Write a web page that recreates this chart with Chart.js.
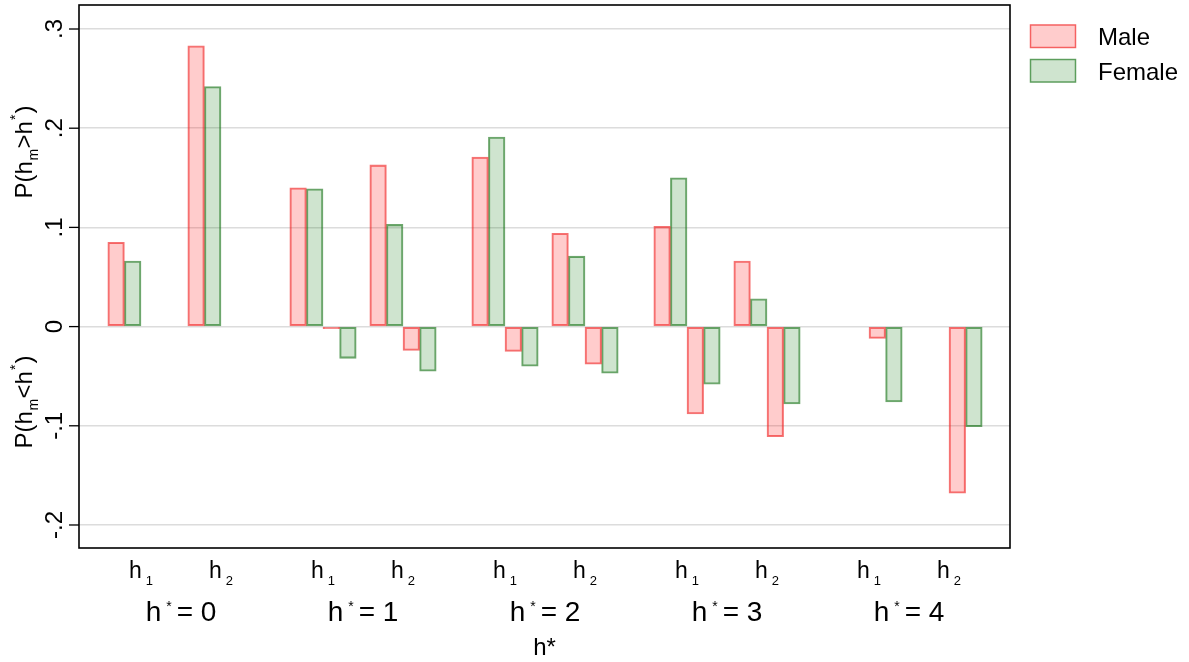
<!DOCTYPE html>
<html>
<head>
<meta charset="utf-8">
<title>P(h_m vs h*) by sex</title>
<script src="https://cdn.jsdelivr.net/npm/chart.js@4/dist/chart.umd.min.js"></script>
<style>
  html, body { margin: 0; padding: 0; background: #ffffff; }
  canvas { display: block; }
</style>
</head>
<body>
<canvas id="chart" width="1189" height="662"></canvas>
<script>
// Category levels: true level h* and the two reported levels h1, h2
const hStarLevels = ['0', '1', '2', '3', '4'];
const subLevels = ['1', '2'];
const seriesNames = ['Male', 'Female'];

// Probabilities, ordered (h*=0,h1), (h*=0,h2), (h*=1,h1), ... (h*=4,h2)
const maleAbove   = [0.085, 0.283, 0.140, 0.163, 0.171, 0.094, 0.101, 0.066, null, null];
const femaleAbove = [0.066, 0.242, 0.139, 0.103, 0.191, 0.071, 0.150, 0.028, null, null];
const maleBelow   = [null, null, -0.001, -0.024, -0.025, -0.038, -0.088, -0.111, -0.012, -0.168];
const femaleBelow = [null, null, -0.032, -0.045, -0.040, -0.047, -0.058, -0.078, -0.076, -0.101];

// Value-axis ticks
const yTickValues = [-0.2, -0.1, 0, 0.1, 0.2, 0.3];
const yTickLabels = ['-.2', '-.1', '0', '.1', '.2', '.3'];

// ---- layout / style ----
const FONT = "'Liberation Sans', Arial, Helvetica, sans-serif";
const GROUP_STEP = 2.275;   // distance between h* groups (in sub-category units)
const colors = {
  male:   { fill: 'rgba(255,0,0,0.2)',   line: 'rgba(240,40,40,0.65)' },
  female: { fill: 'rgba(0,110,0,0.19)',  line: 'rgba(30,120,30,0.65)' }
};

// x position of each (h*, h_k) cell
const xPos = [];
hStarLevels.forEach((_, g) => subLevels.forEach((__, s) => xPos.push(g * GROUP_STEP + s)));

const toPoints = vals => vals.map((v, i) => ({ x: xPos[i], y: v }));

function barSet(label, vals, c) {
  return {
    label,
    data: toPoints(vals),
    backgroundColor: c.fill,
    borderColor: c.line,
    borderWidth: 1.4,
    borderSkipped: false,
    barThickness: 16.6,
    minBarLength: 2
  };
}

// Draw a sequence of text runs (main text, sub/superscripts) centred at x
function drawRuns(ctx, runs, cx, baseY) {
  let total = 0;
  runs.forEach(r => {
    ctx.font = r.size + 'px ' + FONT;
    r.w = ctx.measureText(r.t).width;
    total += r.w + (r.gap || 0);
  });
  let x = cx - total / 2;
  ctx.textAlign = 'left';
  ctx.textBaseline = 'alphabetic';
  runs.forEach(r => {
    ctx.font = r.size + 'px ' + FONT;
    ctx.fillText(r.t, x, baseY + (r.dy || 0));
    x += r.w + (r.gap || 0);
  });
}

const decorations = {
  id: 'decorations',
  afterDraw(chart) {
    const ctx = chart.ctx;
    const a = chart.chartArea;
    const xs = chart.scales.x, ys = chart.scales.y;
    ctx.save();
    ctx.fillStyle = '#000';

    // plot frame
    ctx.strokeStyle = '#000';
    ctx.lineWidth = 1.6;
    ctx.strokeRect(a.left, a.top, a.right - a.left, a.bottom - a.top);

    // y tick marks and rotated tick labels
    ctx.lineWidth = 1.3;
    yTickValues.forEach((v, i) => {
      const y = ys.getPixelForValue(v);
      ctx.beginPath();
      ctx.moveTo(a.left - 10, y);
      ctx.lineTo(a.left, y);
      ctx.stroke();
      ctx.save();
      ctx.translate(62, y);
      ctx.rotate(-Math.PI / 2);
      ctx.font = '24px ' + FONT;
      ctx.textAlign = 'center';
      ctx.textBaseline = 'alphabetic';
      ctx.fillText(yTickLabels[i], 0, 0);
      ctx.restore();
    });

    // y axis titles, one for each half of the axis
    const yTitle = (sign, cy) => {
      ctx.save();
      ctx.translate(32, cy);
      ctx.rotate(-Math.PI / 2);
      drawRuns(ctx, [
        { t: 'P(h', size: 24, gap: 0.5 },
        { t: 'm', size: 14, dy: 6, gap: 0.5 },
        { t: sign + 'h', size: 24, gap: 1 },
        { t: '*', size: 14, dy: -12, gap: 1 },
        { t: ')', size: 24 }
      ], 0, 0);
      ctx.restore();
    };
    yTitle('>', 152);
    yTitle('<', 402);

    // sub-category labels h1 / h2 and group labels h* = k
    hStarLevels.forEach((lvl, g) => {
      subLevels.forEach((sub, s) => {
        const px = xs.getPixelForValue(xPos[g * subLevels.length + s]);
        drawRuns(ctx, [
          { t: 'h', size: 23, gap: 4 },
          { t: sub, size: 13, dy: 7 }
        ], px, 578);
      });
      const p1 = xs.getPixelForValue(xPos[g * subLevels.length]);
      const p2 = xs.getPixelForValue(xPos[g * subLevels.length + subLevels.length - 1]);
      drawRuns(ctx, [
        { t: 'h', size: 28, gap: 5 },
        { t: '*', size: 14, dy: -10, gap: 5 },
        { t: '= ' + lvl, size: 28 }
      ], (p1 + p2) / 2, 621);
    });

    // x axis title
    drawRuns(ctx, [{ t: 'h*', size: 24 }], (a.left + a.right) / 2, 655);

    // legend
    const legend = [colors.male, colors.female];
    seriesNames.forEach((name, i) => {
      const top = 24.5 + i * 34.5;
      const c = legend[i];
      ctx.fillStyle = '#fff';
      ctx.fillRect(1030, top, 46, 23.5);
      ctx.fillStyle = c.fill;
      ctx.fillRect(1030, top, 46, 23.5);
      ctx.strokeStyle = c.line;
      ctx.lineWidth = 1.5;
      ctx.strokeRect(1030.5, top + 0.5, 45, 22.5);
      ctx.fillStyle = '#000';
      ctx.font = '24px ' + FONT;
      ctx.textAlign = 'left';
      ctx.textBaseline = 'alphabetic';
      ctx.fillText(name, 1098, top + 20.5);
    });
    ctx.restore();
  }
};

new Chart(document.getElementById('chart'), {
  type: 'bar',
  data: {
    datasets: [
      barSet(seriesNames[0], maleAbove, colors.male),
      barSet(seriesNames[1], femaleAbove, colors.female),
      barSet(seriesNames[0], maleBelow, colors.male),
      barSet(seriesNames[1], femaleBelow, colors.female)
    ]
  },
  options: {
    responsive: false,
    animation: false,
    devicePixelRatio: 1,
    layout: { padding: { top: 5, right: 179, bottom: 0, left: 0 } },
    plugins: { legend: { display: false }, tooltip: { enabled: false } },
    scales: {
      x: {
        type: 'linear',
        offset: false,
        min: -0.775,
        max: (hStarLevels.length - 1) * GROUP_STEP + 1 + 0.7625,
        grid: { display: false, offset: false },
        border: { display: false },
        ticks: { display: false },
        afterFit: s => { s.height = 114; }
      },
      y: {
        min: -0.2232,
        max: 0.3242,
        afterBuildTicks: s => { s.ticks = yTickValues.map(v => ({ value: v })); },
        grid: { color: '#dcdcdc', lineWidth: 1.5, drawTicks: false },
        border: { display: false },
        ticks: { display: false },
        afterFit: s => { s.width = 79; }
      }
    }
  },
  plugins: [decorations]
});
</script>
</body>
</html>
